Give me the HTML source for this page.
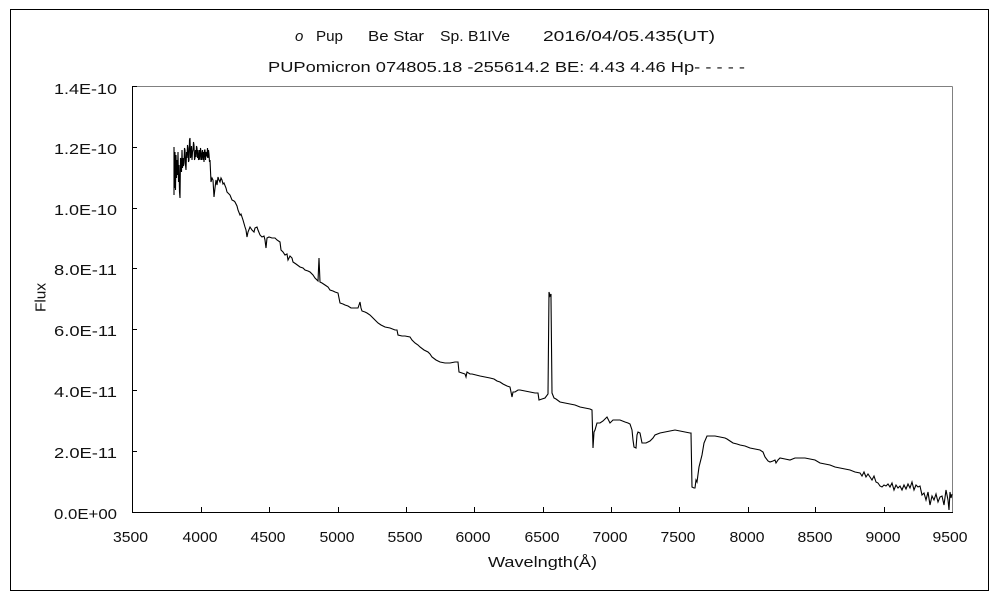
<!DOCTYPE html>
<html>
<head>
<meta charset="utf-8">
<style>
html,body{margin:0;padding:0;background:#fff;}
svg{display:block;}
text{font-family:"Liberation Sans","IPAGothic",sans-serif;fill:#111;}
</style>
</head>
<body>
<svg width="1000" height="600" viewBox="0 0 1000 600" xmlns="http://www.w3.org/2000/svg">
<rect x="0" y="0" width="1000" height="600" fill="#fff"/>
<!-- outer border -->
<rect x="10.5" y="9.5" width="978" height="581" fill="none" stroke="#000" stroke-width="1"/>

<!-- titles -->
<g font-size="15">
<text x="295" y="41" font-style="italic">ο</text>
<text x="316" y="41" textLength="27" lengthAdjust="spacingAndGlyphs">Pup</text>
<text x="368" y="41" textLength="56" lengthAdjust="spacingAndGlyphs">Be Star</text>
<text x="440" y="41" textLength="70" lengthAdjust="spacingAndGlyphs">Sp. B1IVe</text>
<text x="543" y="41" textLength="172" lengthAdjust="spacingAndGlyphs">2016/04/05.435(UT)</text>
<text x="268" y="72" textLength="477" lengthAdjust="spacingAndGlyphs">PUPomicron 074805.18 -255614.2 BE: 4.43 4.46 Hp- - - - -</text>
</g>

<!-- plot frame -->
<line x1="132.5" y1="86.5" x2="952.5" y2="86.5" stroke="#808080" stroke-width="1"/>
<line x1="952.5" y1="86.5" x2="952.5" y2="512.5" stroke="#808080" stroke-width="1"/>
<line x1="132.5" y1="86" x2="132.5" y2="513" stroke="#000" stroke-width="1"/>
<line x1="132" y1="512.5" x2="953" y2="512.5" stroke="#000" stroke-width="1"/>

<!-- y ticks -->
<g stroke="#000" stroke-width="1">
<line x1="132" y1="86.5" x2="137" y2="86.5"/>
<line x1="132" y1="147.5" x2="137" y2="147.5"/>
<line x1="132" y1="208.5" x2="137" y2="208.5"/>
<line x1="132" y1="268.5" x2="137" y2="268.5"/>
<line x1="132" y1="329.5" x2="137" y2="329.5"/>
<line x1="132" y1="390.5" x2="137" y2="390.5"/>
<line x1="132" y1="451.5" x2="137" y2="451.5"/>
<!-- x ticks -->
<line x1="201.5" y1="512" x2="201.5" y2="507"/>
<line x1="269.5" y1="512" x2="269.5" y2="507"/>
<line x1="338.5" y1="512" x2="338.5" y2="507"/>
<line x1="406.5" y1="512" x2="406.5" y2="507"/>
<line x1="474.5" y1="512" x2="474.5" y2="507"/>
<line x1="543.5" y1="512" x2="543.5" y2="507"/>
<line x1="611.5" y1="512" x2="611.5" y2="507"/>
<line x1="679.5" y1="512" x2="679.5" y2="507"/>
<line x1="748.5" y1="512" x2="748.5" y2="507"/>
<line x1="815.5" y1="512" x2="815.5" y2="507"/>
<line x1="884.5" y1="512" x2="884.5" y2="507"/>
</g>

<!-- y labels -->
<g font-size="15" text-anchor="end">
<text x="117" y="94" textLength="63" lengthAdjust="spacingAndGlyphs">1.4E-10</text>
<text x="117" y="154" textLength="63" lengthAdjust="spacingAndGlyphs">1.2E-10</text>
<text x="117" y="215" textLength="63" lengthAdjust="spacingAndGlyphs">1.0E-10</text>
<text x="117" y="275" textLength="63" lengthAdjust="spacingAndGlyphs">8.0E-11</text>
<text x="117" y="336" textLength="63" lengthAdjust="spacingAndGlyphs">6.0E-11</text>
<text x="117" y="397" textLength="63" lengthAdjust="spacingAndGlyphs">4.0E-11</text>
<text x="117" y="458" textLength="63" lengthAdjust="spacingAndGlyphs">2.0E-11</text>
<text x="117" y="519" textLength="63" lengthAdjust="spacingAndGlyphs">0.0E+00</text>
</g>

<!-- x labels -->
<g font-size="15" text-anchor="middle">
<text x="130.5" y="542" textLength="35" lengthAdjust="spacingAndGlyphs">3500</text>
<text x="200" y="542" textLength="35" lengthAdjust="spacingAndGlyphs">4000</text>
<text x="268" y="542" textLength="35" lengthAdjust="spacingAndGlyphs">4500</text>
<text x="337" y="542" textLength="35" lengthAdjust="spacingAndGlyphs">5000</text>
<text x="405" y="542" textLength="35" lengthAdjust="spacingAndGlyphs">5500</text>
<text x="473" y="542" textLength="35" lengthAdjust="spacingAndGlyphs">6000</text>
<text x="542" y="542" textLength="35" lengthAdjust="spacingAndGlyphs">6500</text>
<text x="610" y="542" textLength="35" lengthAdjust="spacingAndGlyphs">7000</text>
<text x="678" y="542" textLength="35" lengthAdjust="spacingAndGlyphs">7500</text>
<text x="747" y="542" textLength="35" lengthAdjust="spacingAndGlyphs">8000</text>
<text x="815" y="542" textLength="35" lengthAdjust="spacingAndGlyphs">8500</text>
<text x="883" y="542" textLength="35" lengthAdjust="spacingAndGlyphs">9000</text>
<text x="950" y="542" textLength="35" lengthAdjust="spacingAndGlyphs">9500</text>
</g>

<!-- axis titles -->
<text x="542.5" y="567" font-size="15" text-anchor="middle" textLength="109" lengthAdjust="spacingAndGlyphs">Wavelngth(Å)</text>
<text transform="translate(45.5,297.5) rotate(-90)" font-size="15" text-anchor="middle" textLength="29" lengthAdjust="spacingAndGlyphs">Flux</text>

<!-- spectrum -->
<polyline fill="none" stroke="#000" stroke-width="1.1" stroke-linejoin="miter" points="
174,195 174,147 174.5,188 175,152 175.5,190 176,155 176.5,178 177,160 177.5,175 178,152 178.5,182 179,165 179.5,192 180,198 180.5,158 181,160 181.5,172 182,150 182.5,168 183,158 183.5,166 184,163 184.5,148 185,150 185.5,165 186,170 186.5,152 187,158 187.5,145 188,148 188.5,162 189,160 189.5,140 190,138 190.5,158 191,155 191.5,146 192,160 192.5,152 193,150 193.5,142 194,145 194.5,160 195,158 195.5,150 196,157 196.5,146 197,148 197.5,158 198,150 198.5,160 199,158 199.5,150 200,160 200.5,148 201,152 201.5,160 202,155 202.5,150 203,160 203.5,152 204,162 204.5,150 205,150 205.5,160 206,152 206.5,155 207,156 207.5,148 208,158 208.5,150 209,154 209.5,162 210,160 211,182 212,178 213,180 214,197 215,188 216,180 217,185 218,177 219,180 220,182 221,178 222,180 223,184 224,183 226,188 227,192 229,194 230,195 232,200 234,201 235,202 237,206 238,210 240,215 241,214 243,220 245,227 246,230 247,237 248,232 250,227 252,230 254,232 255,228 257,227 258,230 260,235 262,237 264,236 265,240 266,248 267,238 269,237 272,238 275,238 277,240 280,242 281,250 283,252 285,255 287,254 288,260 290,256 292,258 293,262 296,264 300,267 303,268 305,270 308,271 310,272 313,275 315,278 317,280 318,281 319,258 320,282 322,283 325,285 328,287 330,290 333,291 335,292 338,293 340,303 343,304 345,305 348,306 351,308 355,308 358,308 360,302 361,308 362,311 365,312 367,313 370,315 372,317 375,320 378,323 381,325 385,327 390,328 395,330 397,330 398,335 402,336 405,336 410,337 412,340 415,343 418,345 420,347 424,350 428,352 430,354 432,357 436,360 440,362 445,363 450,363 455,362 458,362 459,372 462,373 465,374 466,377 467,372 470,374 472,374 476,375 480,376 485,377 490,378 494,379 497,381 500,382 503,384 507,386 510,387 511,392 512,397 513,392 515,392 518,390 520,390 525,391 530,392 535,393 538,393 539,400 542,399 545,398 548,394 549,292 550,296 551,294 551,298 552,393 554,398 556,399 560,402 565,403 570,404 575,405 580,407 585,408 590,409 592,410 593,448 594,432 595,430 597,423 600,423 603,421 607,417 610,423 613,420 615,420 620,420 625,422 628,423 630,424 632,430 633,440 634,447 636,448 637,435 638,432 640,433 642,443 646,443 650,441 653,438 655,435 660,433 665,432 670,431 675,430 680,431 685,432 690,433 691,433 692,487 694,488 695,488 696,480 697,482 699,467 702,455 704,443 707,436 712,436 715,436 720,437 725,438 727,439 730,441 733,443 737,444 740,445 745,446 750,448 755,449 760,450 763,452 765,457 768,461 770,462 773,461 775,460 776,463 778,460 780,458 785,459 790,460 795,458 800,458 805,458 810,459 815,460 820,463 825,464 830,465 835,467 840,468 845,469 850,470 855,472 860,473 862,476 864,472 866,477 868,474 870,477 872,480 874,476 876,482 878,483 880,486 882,487 884,485 886,486 888,484 890,487 892,483 894,490 896,485 898,488 900,486 902,490 904,485 906,489 908,484 910,488 912,482 914,490 916,485 918,487 920,486 922,495 924,493 926,500 928,492 930,505 932,496 934,500 936,494 938,502 940,497 942,496 944,505 946,490 948,500 949,510 950,492 951,498 952,494"/>
</svg>
</body>
</html>
